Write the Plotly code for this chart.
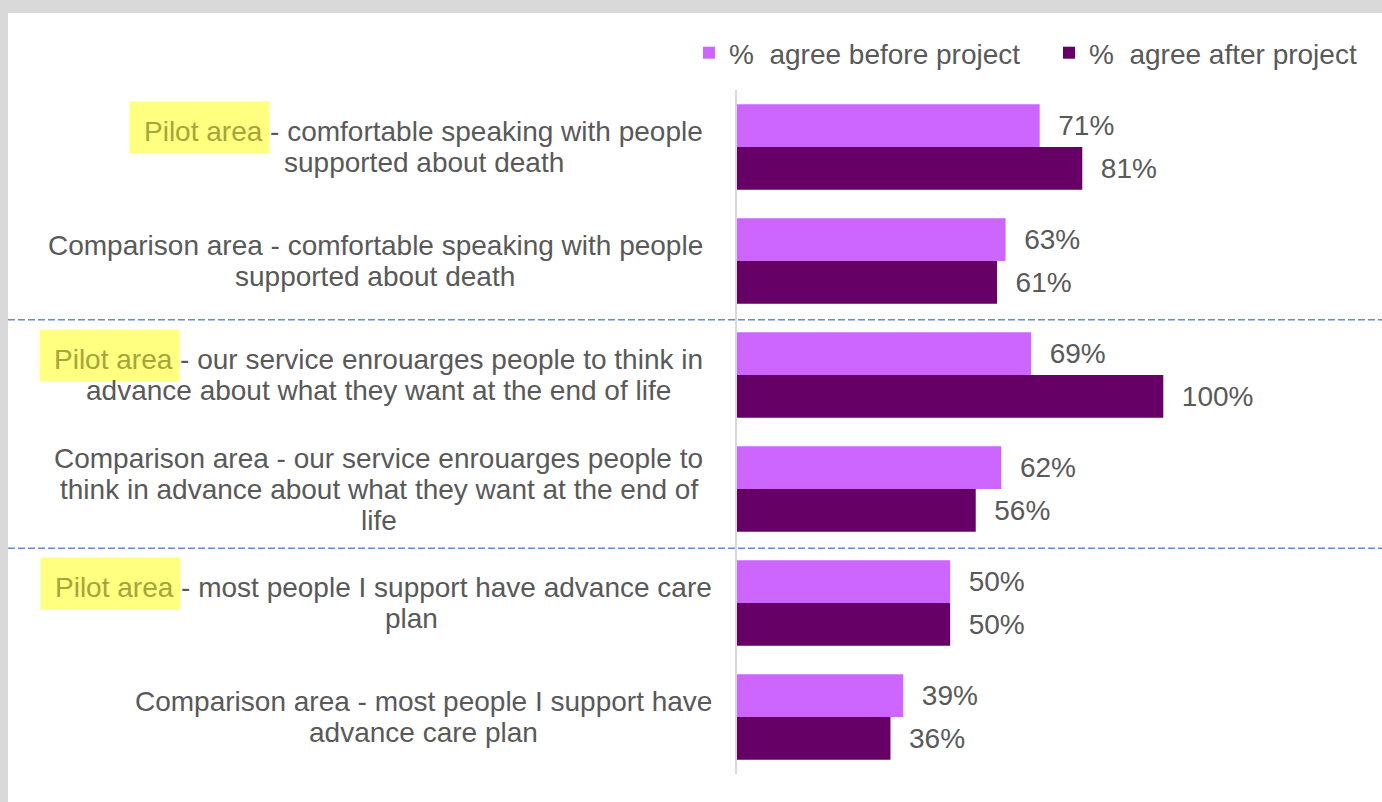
import plotly.graph_objects as go

# ---------------- data ----------------
categories = [
    "Pilot area - comfortable speaking with people\nsupported about death",
    "Comparison area - comfortable speaking with people\nsupported about death",
    "Pilot area - our service enrouarges people to think in\nadvance about what they want at the end of life",
    "Comparison area - our service enrouarges people to\nthink in advance about what they want at the end of\nlife",
    "Pilot area - most people I support have advance care\nplan",
    "Comparison area - most people I support have\nadvance care plan",
]
before = [71, 63, 69, 62, 50, 39]
after = [81, 61, 100, 56, 50, 36]
series_names = ["%\u00a0\u00a0agree before project", "%\u00a0\u00a0agree after project"]

# ---------------- style ----------------
FONT = "Liberation Sans, Arial, sans-serif"
FS = 28
TEXT = "#595959"
C_BEFORE = "#CC66FF"
C_AFTER = "#660066"
HIGHLIGHT = "#FFFF80"
PILOT_TEXT = "#A5A53A"
BORDER = "#D9D9D9"

W, H = 1382, 802
L, T, B, R = 737, 90, 28, 0
PW = W - L - R
PH = H - T - B
XMAX = PW / 4.263

# Arial / Liberation Sans advance widths (1/1000 em)
AW = {" ": 278, "-": 333, "%": 889, "C": 722, "I": 278, "P": 667,
      "a": 556, "b": 556, "c": 500, "d": 556, "e": 556, "f": 278, "g": 556,
      "h": 556, "i": 222, "j": 222, "k": 500, "l": 222, "m": 833, "n": 556,
      "o": 556, "p": 556, "q": 556, "r": 333, "s": 500, "t": 278, "u": 556,
      "v": 500, "w": 722, "x": 500, "y": 500, "z": 500}


def tw(s, size=FS):
    return sum(AW.get(ch, 556) for ch in s) * size / 1000


right_edges = [703, 703, 703, 703, 712, 712]
line_dx = {(4, 1): 28}
LINE = 31

fig = go.Figure()
fig.add_trace(go.Bar(
    y=categories, x=before, orientation="h", name=series_names[0],
    marker=dict(color=C_BEFORE, line=dict(width=0)),
    texttemplate="\u00a0\u00a0%{x}%", textposition="outside",
    textfont=dict(family=FONT, size=FS, color=TEXT),
    cliponaxis=False, constraintext="none", hoverinfo="skip",
    legendwidth=315,
))
fig.add_trace(go.Bar(
    y=categories, x=after, orientation="h", name=series_names[1],
    marker=dict(color=C_AFTER, line=dict(width=0)),
    texttemplate="\u00a0\u00a0%{x}%", textposition="outside",
    textfont=dict(family=FONT, size=FS, color=TEXT),
    cliponaxis=False, constraintext="none", hoverinfo="skip",
))

annotations = []
for k, (cat, redge) in enumerate(zip(categories, right_edges)):
    lines = cat.split("\n")
    n = len(lines)
    wmax = max(tw(s) for s in lines)
    cx = redge - wmax / 2
    for i, line in enumerate(lines):
        ys = ((n - 1) / 2 - i) * LINE
        lx = cx + line_dx.get((k, i), 0)
        txt = line
        if line.startswith("Pilot area"):
            left = lx - tw(line) / 2
            annotations.append(dict(
                xref="paper", yref="y", x=0, y=cat, xanchor="left", yanchor="middle",
                xshift=left - 15 - L, yshift=ys + 4, text="Pilot area", showarrow=False,
                font=dict(family=FONT, size=FS, color="rgba(0,0,0,0)"),
                bgcolor=HIGHLIGHT, borderpad=10,
            ))
            txt = f"<span style='color:{PILOT_TEXT}'>Pilot area</span>" + line[len("Pilot area"):]
        annotations.append(dict(
            xref="paper", yref="y", x=0, y=cat, xanchor="center", yanchor="middle",
            xshift=lx - L, yshift=ys, text=txt, showarrow=False,
            font=dict(family=FONT, size=FS, color=TEXT),
        ))

shapes = [
    dict(type="rect", xref="paper", yref="paper", layer="below",
         x0=(8 - L) / PW, x1=1.05, y0=-0.1, y1=(H - B - 13) / PH,
         fillcolor="white", line=dict(width=0)),
]
for yb in (1.515, 3.52):
    shapes.append(dict(type="line", xref="paper", yref="y",
                       x0=(8 - L) / PW, x1=1.0, y0=yb, y1=yb,
                       line=dict(color="rgb(100,140,215)", width=1.5, dash="7px,3px")))

fig.update_layout(
    width=W, height=H,
    margin=dict(l=L, r=R, t=T, b=B, pad=0),
    paper_bgcolor=BORDER, plot_bgcolor="white",
    barmode="group", bargap=0.25, bargroupgap=0,
    font=dict(family=FONT, size=FS, color=TEXT),
    xaxis=dict(range=[0, XMAX], showgrid=False, zeroline=False, showticklabels=False,
               ticks="", showline=False, fixedrange=True),
    yaxis=dict(categoryorder="array", categoryarray=categories, autorange="reversed",
               showgrid=False, zeroline=False, showticklabels=False, ticks="",
               showline=True, linecolor=BORDER, linewidth=2, fixedrange=True),
    legend=dict(orientation="h", x=(689 - L) / PW, xanchor="left",
                y=(H - B - 53) / PH, yanchor="middle",
                font=dict(family=FONT, size=FS, color=TEXT),
                bgcolor="rgba(0,0,0,0)", traceorder="normal", itemclick=False,
                itemdoubleclick=False),
    annotations=annotations,
    shapes=shapes,
    showlegend=True,
    hovermode=False,
)

fig.write_html("out.html", config={"displayModeBar": False})
